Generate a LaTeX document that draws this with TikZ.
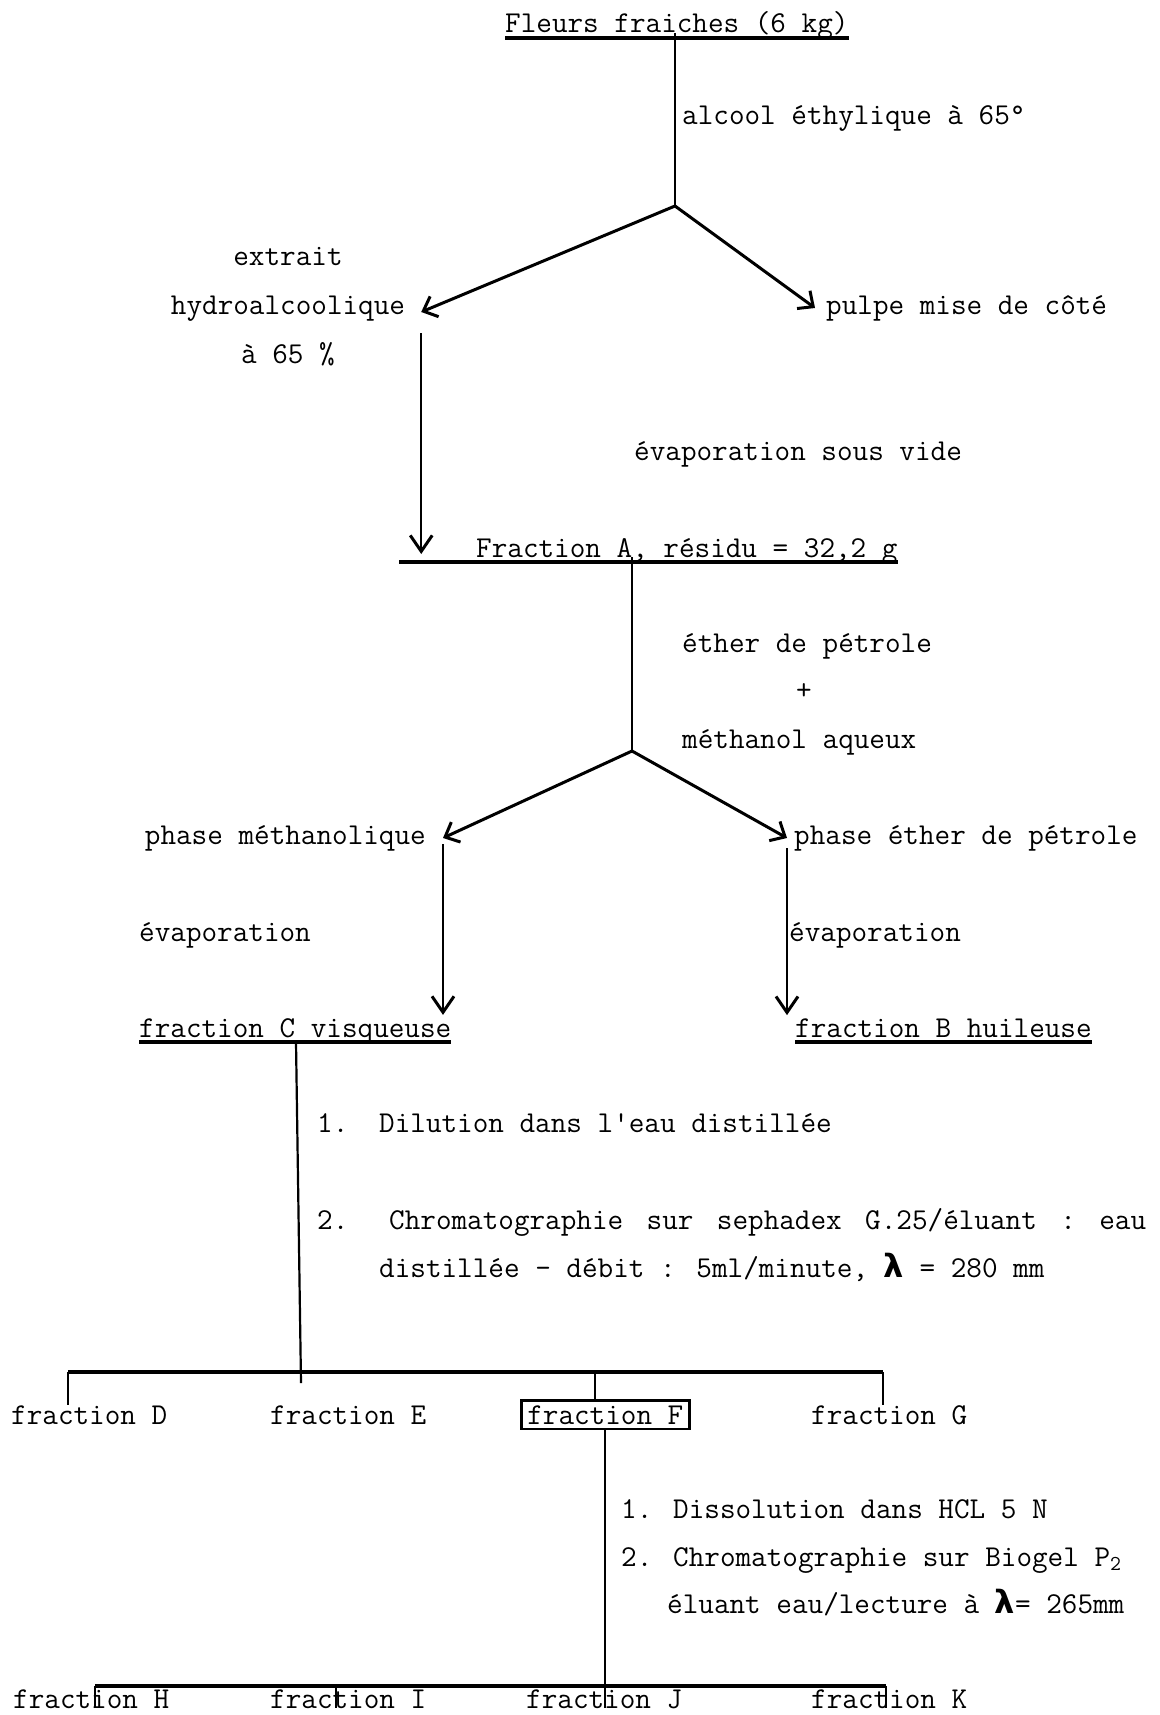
\documentclass[tikz,border=0pt]{standalone}
\usepackage{fontspec}
\newfontfamily\lamfont{DejaVu Sans}
\usetikzlibrary{arrows.meta}

\tikzset{
  txt/.style={inner sep=0pt, anchor=base west},
  conn/.style={line width=2.2pt},
  branch/.style={line width=3pt, -{Straight Barb[length=12pt,width=22pt,line width=3pt]}},
  down/.style={line width=2.2pt, shorten >=3pt, -{Straight Barb[length=16pt,width=22pt,line width=3pt]}},
  uline/.style={line width=3.2pt},
}
\newcommand{\lam}{{\lamfont\fontsize{32}{32}\selectfont\bfseries λ}}

\begin{document}
\begin{tikzpicture}[x=1pt,y=-1pt,font=\ttfamily\fontsize{30.3}{49}\selectfont]
    \useasboundingbox (0,0) rectangle (1159,1715);

    % start
    \node[txt] (fleurs) at (505,33) {Fleurs fraiches (6 kg)};
    \draw[uline] ([yshift=-5pt]fleurs.base west) -- ([yshift=-5pt]fleurs.base east);
    \coordinate (split1) at (675,206);
    \draw[conn] (split1 |- fleurs.base) -- (split1);
    \node[txt] (alcool) at (682,125) {alcool éthylique à 65°};

    \node[align=center, inner xsep=16pt, inner ysep=0pt] (hydro) at (288,307) {extrait\\hydroalcoolique\\à 65 \%};
    \node[anchor=west, inner sep=0pt, inner xsep=11pt] (pulpe) at (815,308) {pulpe mise de côté};
    \draw[branch] (split1) -- ([yshift=-5pt]hydro.east);
    \draw[branch] (split1) -- (pulpe.west);

    \node[txt] (vide) at (634,460) {évaporation sous vide};
    \node[txt] (fracA) at (476,557) {Fraction A, résidu = 32,2 g};
    \draw[uline] ([xshift=-77pt,yshift=-5pt]fracA.base west) -- ([yshift=-5pt]fracA.base east);
    \draw[down] ([yshift=-26pt]hydro.east) -- (hydro.east |- fracA.base);

    % partage
    \coordinate (split2) at (632,751);
    \draw[conn] (split2 |- fracA.base) -- (split2);
    \node[txt] (ether) at (682,652) {éther de pétrole};
    \node (plus) at (804,692) {+};
    \node[txt] (metaq) at (682,748) {méthanol aqueux};

    \node[anchor=east, inner sep=0pt, inner xsep=17pt] (phaseM) at (443,838) {phase méthanolique};
    \node[anchor=west, inner sep=0pt, inner xsep=7pt] (phaseE) at (787,838) {phase éther de pétrole};
    \draw[branch] (split2) -- (phaseM.east);
    \draw[branch] (split2) -- (phaseE.west);

    \node[txt] (evapM) at (139,941) {évaporation};
    \node[txt] (evapE) at (789,941) {évaporation};
    \node[txt] (fracC) at (139,1037) {fraction C visqueuse};
    \node[txt] (fracB) at (795,1037) {fraction B huileuse};
    \draw[uline] ([yshift=-5pt]fracC.base west) -- ([yshift=-5pt]fracC.base east);
    \draw[uline] ([yshift=-5pt]fracB.base west) -- ([yshift=-5pt]fracB.base east);
    \draw[down] ([yshift=-6pt]phaseM.east) -- (phaseM.east |- fracC.north);
    \draw[down] ([yshift=-10pt]phaseE.west) -- (phaseE.west |- fracB.north);

    % sephadex
    \coordinate (stemC) at (301,1383);
    \draw[conn] ([xshift=157pt,yshift=-5pt]fracC.base west) -- (stemC);
    \node[txt] (dil) at (317,1132) {\makebox[62pt][l]{1.}Dilution dans l\textquotesingle eau distillée};
    \node[txt] (sepha) at (317,1229) {\makebox[72pt][l]{2.}\makebox[757pt][l]{Chromatographie\hfill sur\hfill sephadex\hfill G.25/éluant\hfill :\hfill eau}};
    \node[txt] (debit) at (379,1277) {distillée - débit : 5ml/minute, \lam{} = 280 mm};

    \coordinate (bar1L) at (68,1372);
    \coordinate (bar1R) at (883,1372);
    \draw[uline] (bar1L) -- (bar1R);
    \node[txt] (fracD) at (11,1424) {fraction D};
    \node[txt] (fracE) at (270,1424) {fraction E};
    \node[draw, line width=2.6pt, inner xsep=6pt, inner ysep=5pt, anchor=base west] (fracF) at (520,1424) {fraction F};
    \node[txt] (fracG) at (811,1424) {fraction G};
    \draw[conn] (bar1L) -- (bar1L |- fracD.north);
    \draw[conn] ([xshift=-10pt]fracF.north |- bar1L) -- ([xshift=-10pt]fracF.north);
    \draw[conn] (bar1R) -- (bar1R |- fracG.north);

    % biogel
    \node[txt] (diss) at (621,1518) {1. Dissolution dans HCL 5 N};
    \node[txt] (biogel) at (621,1566) {2. Chromatographie sur Biogel P\textsubscript{2}};
    \node[txt] (lecture) at (667,1613) {éluant eau/lecture à \lam= 265mm};

    \coordinate (bar2L) at (95,1686);
    \coordinate (bar2R) at (886,1686);
    \draw[uline] (bar2L) -- (bar2R);
    \node[txt] (fracH) at (13,1708) {fraction H};
    \node[txt] (fracI) at (270,1708) {fraction I};
    \node[txt] (fracJ) at (526,1708) {fraction J};
    \node[txt] (fracK) at (811,1708) {fraction K};
    \draw[conn] (fracF.south) -- (fracF.south |- fracJ.base);
    \draw[conn] (bar2L) -- (bar2L |- fracH.base);
    \draw[conn] ([xshift=-12pt]fracI.north |- bar2L) -- ([xshift=-12pt]fracI.base);
    \draw[conn] (bar2R) -- (bar2R |- fracK.base);
\end{tikzpicture}
\end{document}
